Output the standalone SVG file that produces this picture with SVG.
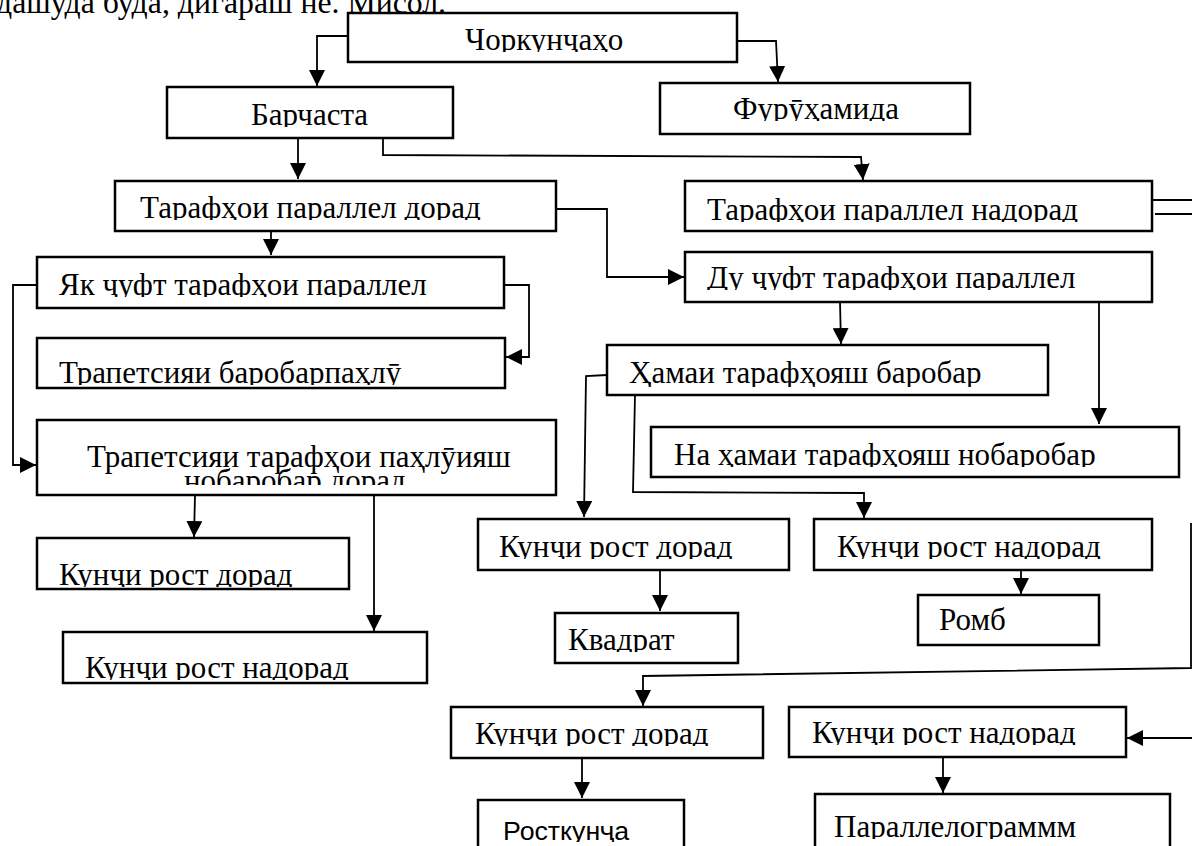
<svg xmlns="http://www.w3.org/2000/svg" width="1192" height="846" viewBox="0 0 1192 846">
<style>
.box{fill:#fff;stroke:#000;stroke-width:2.5}
.t{font-family:"Liberation Serif","Times New Roman",serif;font-size:31px;fill:#000}
.s{font-family:"Liberation Sans",Arial,sans-serif;font-size:25px;fill:#000}
.c{fill:none;stroke:#000;stroke-width:1.8}
.ca{fill:none;stroke:#000;stroke-width:1.8;marker-end:url(#ah)}
</style>
<defs>
<marker id="ah" markerUnits="userSpaceOnUse" markerWidth="16" markerHeight="16" refX="16" refY="8" orient="auto" viewBox="0 0 16 16">
<path d="M0,0 L16,8 L0,16 Z" fill="#000"/>
</marker>
<clipPath id="k1"><rect x="348" y="13" width="389" height="39"/></clipPath>
<clipPath id="k2"><rect x="660" y="83" width="310" height="38"/></clipPath>
<clipPath id="k3"><rect x="167" y="87" width="286" height="40"/></clipPath>
<clipPath id="k4"><rect x="115" y="181" width="441" height="39"/></clipPath>
<clipPath id="k5"><rect x="685" y="181" width="467" height="41"/></clipPath>
<clipPath id="k6"><rect x="37" y="257" width="467" height="40"/></clipPath>
<clipPath id="k7"><rect x="685" y="252" width="467" height="38"/></clipPath>
<clipPath id="k8"><rect x="37" y="338" width="468" height="47"/></clipPath>
<clipPath id="k9"><rect x="37" y="420" width="519" height="65"/></clipPath>
<clipPath id="k10"><rect x="607" y="345" width="441" height="42"/></clipPath>
<clipPath id="k11"><rect x="651" y="427" width="528" height="40"/></clipPath>
<clipPath id="k12"><rect x="37" y="538" width="312" height="49"/></clipPath>
<clipPath id="k13"><rect x="63" y="632" width="364" height="48"/></clipPath>
<clipPath id="k14"><rect x="478" y="519" width="311" height="40"/></clipPath>
<clipPath id="k15"><rect x="814" y="519" width="338" height="40"/></clipPath>
<clipPath id="k16"><rect x="555" y="613" width="183" height="39"/></clipPath>
<clipPath id="k17"><rect x="918" y="595" width="181" height="37"/></clipPath>
<clipPath id="k18"><rect x="451" y="707" width="312" height="39"/></clipPath>
<clipPath id="k19"><rect x="789" y="707" width="337" height="38"/></clipPath>
<clipPath id="k20"><rect x="478" y="800" width="206" height="42"/></clipPath>
<clipPath id="k21"><rect x="815" y="794" width="355" height="45"/></clipPath>
</defs>
<rect x="0" y="0" width="1192" height="846" fill="#fff"/>
<text class="t" x="-4" y="13" textLength="450" lengthAdjust="spacingAndGlyphs">дашуда буда, дигараш не. Мисол.</text>

<g id="connectors">
<polyline class="ca" points="348,36 317,36 317,86"/>
<polyline class="ca" points="737,41 776,41 778,82"/>
<polyline class="ca" points="298,138 298,179"/>
<polyline class="ca" points="383,138 383,155 861,157 863,180"/>
<polyline class="ca" points="271,231 271,255"/>
<polyline class="ca" points="556,209 607,209 607,277 684,277"/>
<polyline class="ca" points="37,285 13,285 13,465 36,465"/>
<polyline class="ca" points="504,285 529,285 529,357 506,357"/>
<polyline class="ca" points="840,302 841,344"/>
<polyline class="ca" points="1099,302 1099,424"/>
<polyline class="ca" points="607,375 586,376 584,517"/>
<polyline class="ca" points="635,395 633,492 864,493 864,518"/>
<polyline class="ca" points="195,495 194,537"/>
<polyline class="ca" points="374,495 374,631"/>
<polyline class="ca" points="660,570 660,611"/>
<polyline class="ca" points="1021,570 1021,594"/>
<polyline class="c" points="1152,200 1192,200"/>
<polyline class="c" points="1155,214 1192,214"/>
<polyline class="ca" points="1191,523 1191,668 643,676 643,706"/>
<polyline class="ca" points="1192,738 1127,738"/>
<polyline class="ca" points="582,758 582,798"/>
<polyline class="ca" points="943,757 943,793"/>
</g>

<g id="n1"><rect class="box" x="348" y="13" width="389" height="49"/><text class="t" x="465" y="50" clip-path="url(#k1)">Чоркунҷаҳо</text></g>
<g id="n2"><rect class="box" x="660" y="83" width="310" height="51"/><text class="t" x="733" y="119" clip-path="url(#k2)">Фурӯҳамида</text></g>
<g id="n3"><rect class="box" x="167" y="87" width="286" height="51"/><text class="t" x="251" y="125" clip-path="url(#k3)">Барчаста</text></g>
<g id="n4"><rect class="box" x="115" y="181" width="441" height="50"/><text class="t" x="140" y="218" clip-path="url(#k4)">Тарафҳои параллел дорад</text></g>
<g id="n5"><rect class="box" x="685" y="181" width="467" height="50"/><text class="t" x="707" y="220" clip-path="url(#k5)">Тарафҳои параллел надорад</text></g>
<g id="n6"><rect class="box" x="37" y="257" width="467" height="51"/><text class="t" x="59" y="295" clip-path="url(#k6)">Як ҷуфт тарафҳои параллел</text></g>
<g id="n7"><rect class="box" x="685" y="252" width="467" height="50"/><text class="t" x="707" y="288" clip-path="url(#k7)">Ду ҷуфт тарафҳои параллел</text></g>
<g id="n8"><rect class="box" x="37" y="338" width="468" height="50"/><text class="t" x="59" y="383" clip-path="url(#k8)">Трапетсияи баробарпаҳлӯ</text></g>
<g id="n9"><rect class="box" x="37" y="420" width="519" height="75"/><g clip-path="url(#k9)"><text class="t" x="87" y="467">Трапетсияи тарафҳои паҳлӯияш</text><text class="t" x="184" y="491">нобаробар дорад</text></g></g>
<g id="n10"><rect class="box" x="607" y="345" width="441" height="50"/><text class="t" x="629" y="383" clip-path="url(#k10)">Ҳамаи тарафҳояш баробар</text></g>
<g id="n11"><rect class="box" x="651" y="427" width="528" height="50"/><text class="t" x="674" y="465" clip-path="url(#k11)">На ҳамаи тарафҳояш нобаробар</text></g>
<g id="n12"><rect class="box" x="37" y="538" width="312" height="51"/><text class="t" x="59" y="585" clip-path="url(#k12)">Кунҷи рост дорад</text></g>
<g id="n13"><rect class="box" x="63" y="632" width="364" height="51"/><text class="t" x="85" y="678" clip-path="url(#k13)">Кунҷи рост надорад</text></g>
<g id="n14"><rect class="box" x="478" y="519" width="311" height="51"/><text class="t" x="499" y="557" clip-path="url(#k14)">Кунҷи рост дорад</text></g>
<g id="n15"><rect class="box" x="814" y="519" width="338" height="51"/><text class="t" x="837" y="557" clip-path="url(#k15)">Кунҷи рост надорад</text></g>
<g id="n16"><rect class="box" x="555" y="613" width="183" height="50"/><text class="t" x="568" y="650" clip-path="url(#k16)">Квадрат</text></g>
<g id="n17"><rect class="box" x="918" y="595" width="181" height="50"/><text class="t" x="939" y="630" clip-path="url(#k17)">Ромб</text></g>
<g id="n18"><rect class="box" x="451" y="707" width="312" height="51"/><text class="t" x="475" y="744" clip-path="url(#k18)">Кунҷи рост дорад</text></g>
<g id="n19"><rect class="box" x="789" y="707" width="337" height="50"/><text class="t" x="812" y="743" clip-path="url(#k19)">Кунҷи рост надорад</text></g>
<g id="n20"><rect class="box" x="478" y="800" width="206" height="56"/><text class="s" x="503" y="840" textLength="126" lengthAdjust="spacingAndGlyphs" clip-path="url(#k20)">Росткунҷа</text></g>
<g id="n21"><rect class="box" x="815" y="794" width="355" height="62"/><text class="t" x="834" y="837" clip-path="url(#k21)">Параллелограммм</text></g>
</svg>
